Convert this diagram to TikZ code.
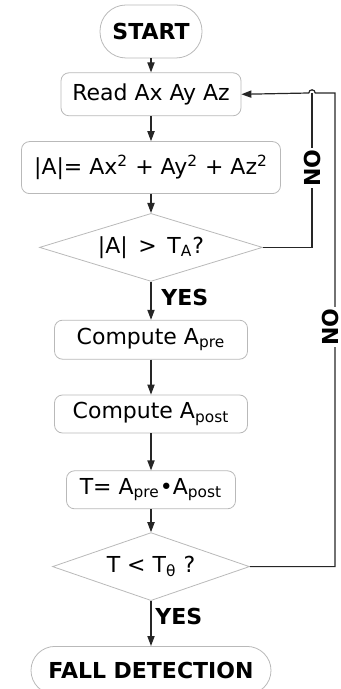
\documentclass[tikz,border=0pt]{standalone}
\usepackage{fontspec}
\setmainfont{DejaVu Sans}
\usetikzlibrary{positioning,shapes.geometric,arrows.meta}
\tikzset{
  term/.style={draw=gray!55, rounded corners=12pt, inner sep=1pt, font=\bfseries\fontsize{11}{13}\selectfont},
  proc/.style={draw=gray!55, rounded corners=4pt, inner sep=1pt},
  decide/.style={draw=gray!55, diamond, inner sep=0pt, minimum height=34pt},
  flow/.style={draw=black!85, line width=0.6pt, -{Triangle[length=5pt,width=3.6pt]}},
  link/.style={draw=black!85, line width=0.6pt},
  lbl/.style={font=\bfseries\fontsize{11}{13}\selectfont, inner sep=0.5pt}
}
\begin{document}
\begin{tikzpicture}[x=0.5pt,y=-0.5pt,font=\fontsize{11}{13}\selectfont]
  \useasboundingbox (0,0) rectangle (341,689);
  % main column
  \node[term, minimum width=51pt, minimum height=26.5pt, rounded corners=13pt] (start) at (151,31.5) {START};
  \node[proc, below=7pt of start, minimum width=90pt, minimum height=21.5pt] (read) {Read Ax Ay Az};
  \node[proc, below=12.5pt of read, minimum width=129.5pt, minimum height=26pt] (mag)
    {|A|= Ax\textsuperscript{2} + Ay\textsuperscript{2} + Az\textsuperscript{2}};
  \node[decide, below=9.5pt of mag, aspect=3.28, minimum width=111.5pt] (thrA) {|A| \,>\, T\textsubscript{A}?};
  \node[proc, below=19pt of thrA, minimum width=96.5pt, minimum height=19.5pt] (pre) {Compute A\textsubscript{pre}};
  \node[proc, below=17.5pt of pre, minimum width=96.5pt, minimum height=19pt] (post) {Compute A\textsubscript{post}};
  \node[proc, below=18.5pt of post, minimum width=84.5pt, minimum height=19pt] (prod)
    {T= A\textsubscript{pre}•A\textsubscript{post}};
  \node[decide, below=11.5pt of prod, aspect=2.9, minimum width=98.5pt] (thrT) {T < T\textsubscript{θ} ?};
  \node[term, below=22.5pt of thrT, minimum width=120pt, minimum height=24pt] (fall) {FALL DETECTION};

  \draw[flow] (start) -- (read);
  \draw[flow] (read) -- (mag);
  \draw[flow] (mag) -- (thrA);
  \draw[flow] (thrA) -- (pre);
  \draw[flow] (pre) -- (post);
  \draw[flow] (post) -- (prod);
  \draw[flow] (prod) -- (thrT);
  \draw[flow] (thrT) -- (fall);

  % loops back
  \coordinate (hop) at (312,93);
  \coordinate (corner) at (335,93);
  \draw[link] (thrA.east) -| (hop);
  \draw[flow] (thrT.east) -| (corner) -- ([xshift=1.6pt]hop)
    arc[start angle=0, end angle=180, radius=1.6pt] -- (read.east);

  \node[lbl, fill=white, rotate=90] (no1) at (312,168) {NO};
  \node[lbl, fill=white, rotate=90] (no2) at (330,327) {NO};
  \node[lbl, anchor=west] (yes1) at (160,297) {YES};
  \node[lbl, anchor=west] (yes2) at (154,616) {YES};
\end{tikzpicture}
\end{document}
